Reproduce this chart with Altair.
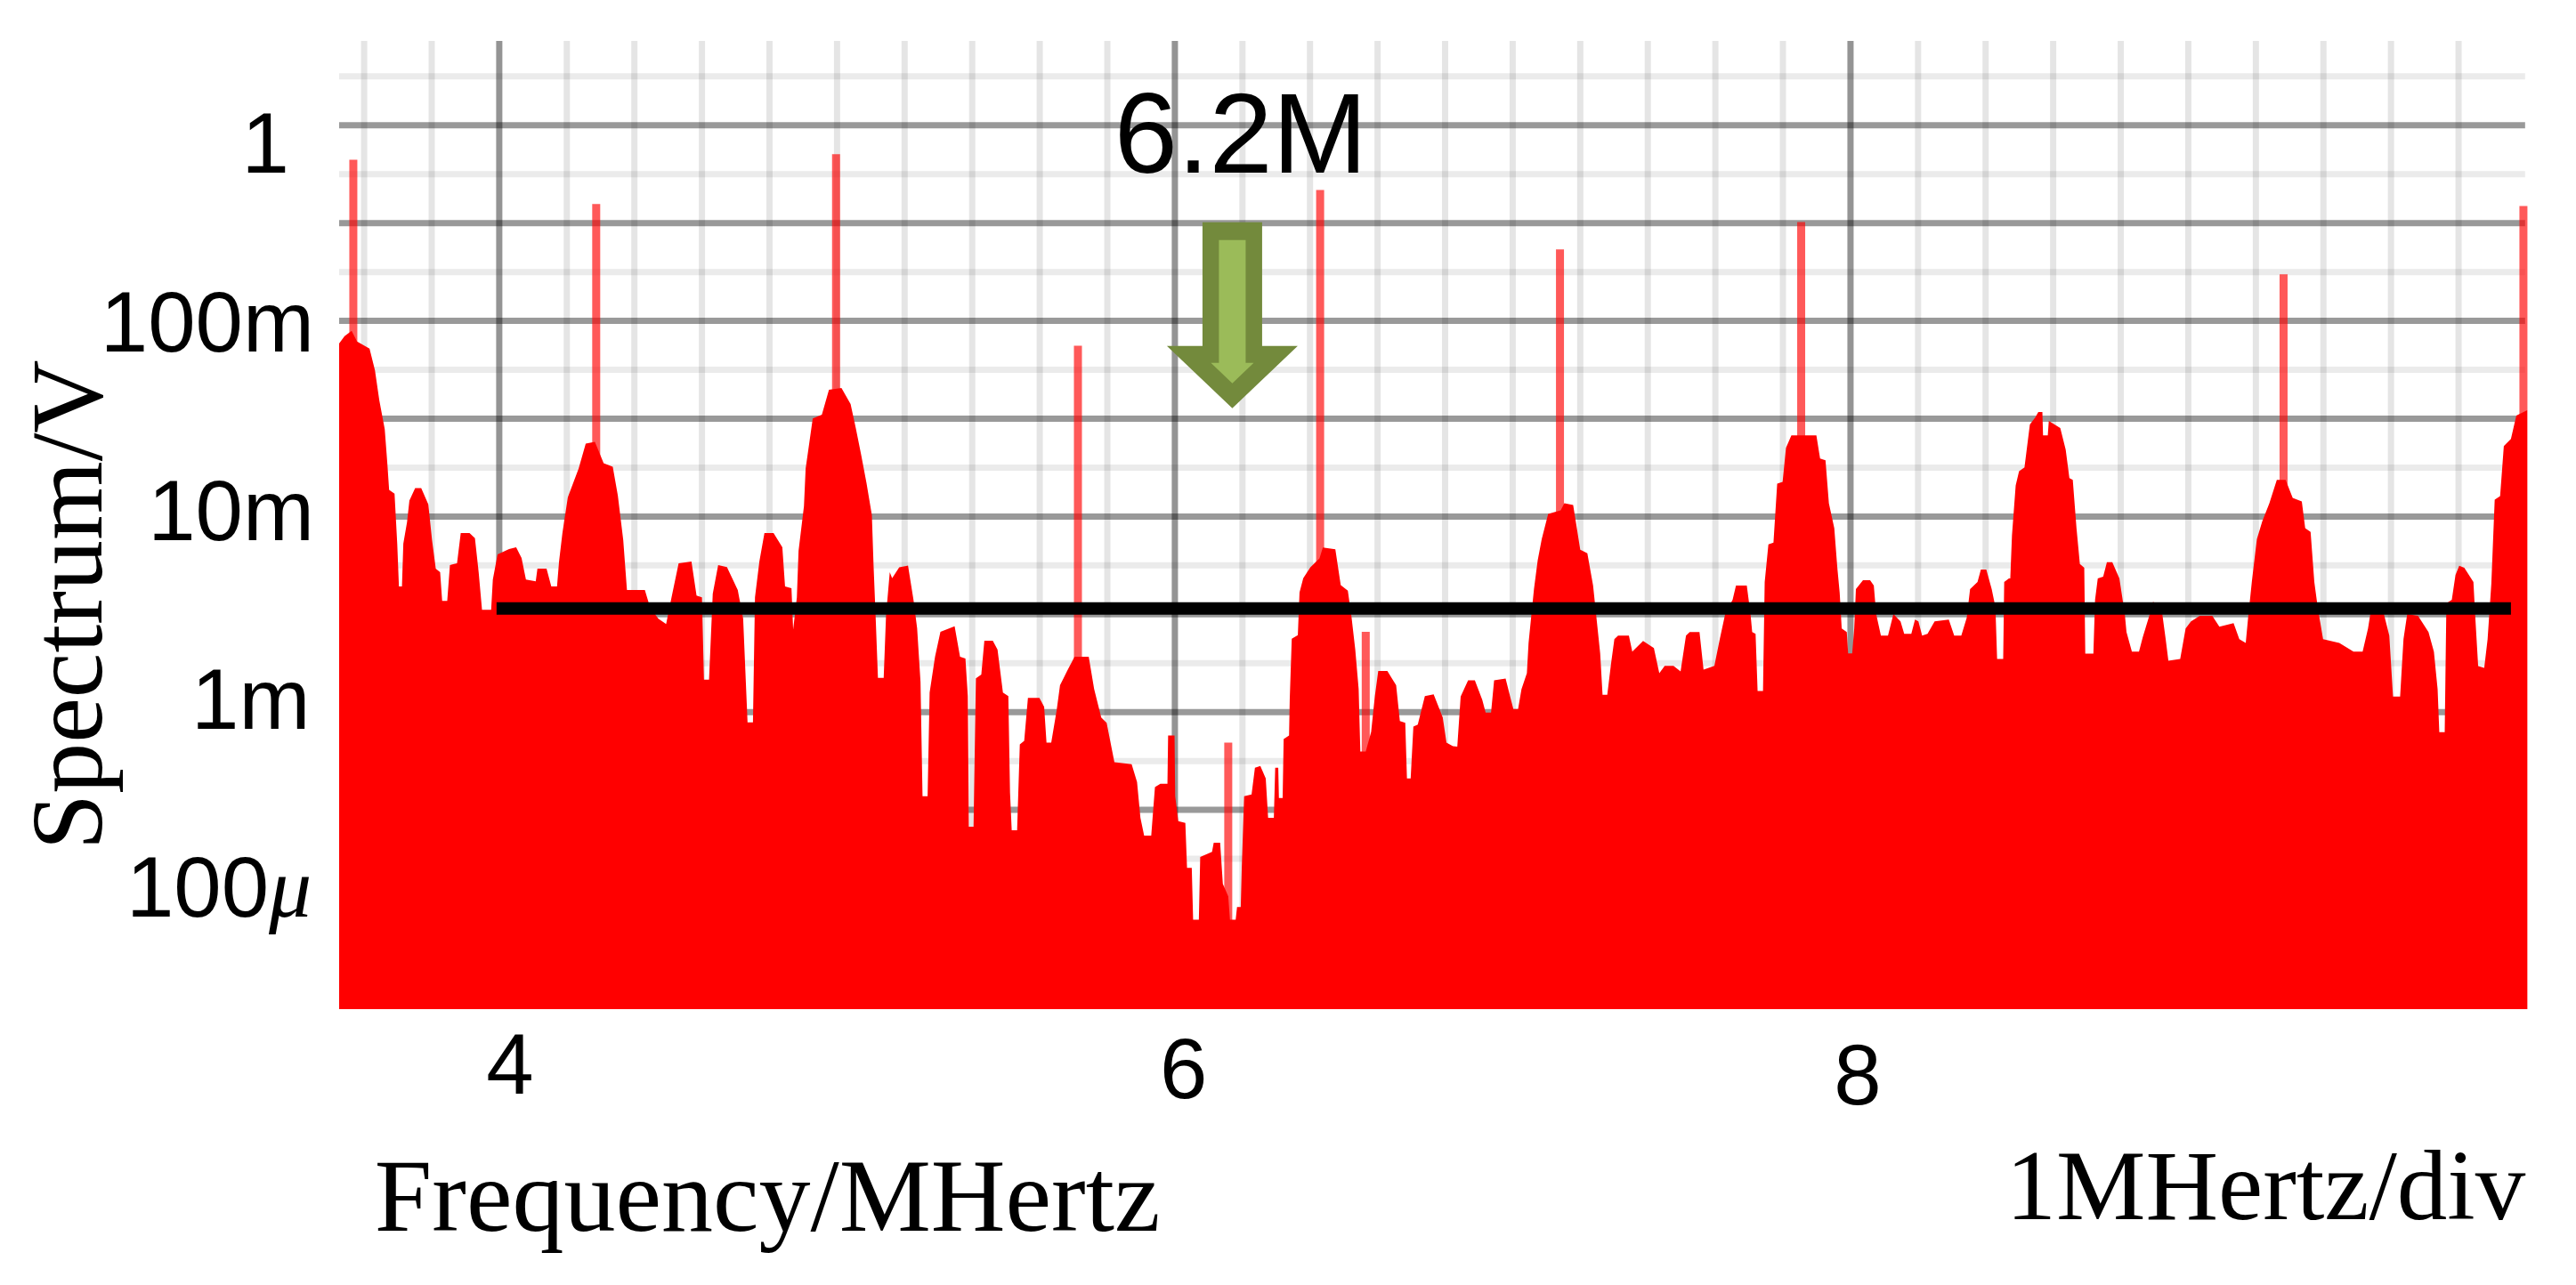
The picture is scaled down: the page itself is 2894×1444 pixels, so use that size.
import altair as alt
import pandas as pd

# Envelope of the spectrum
freq_mhz = [
3.526,3.542,3.563,3.579,3.616,3.632,3.645,3.661,3.669,3.674,3.690,3.698,3.703,3.712,3.716,3.727,3.734,3.751,3.769,3.790,
3.801,3.812,3.825,3.831,3.846,3.854,3.875,3.886,3.912,3.928,3.939,3.949,3.976,3.981,3.995,4.029,4.050,4.066,4.079,4.108,
4.113,4.140,4.154,4.171,4.177,4.187,4.203,4.235,4.256,4.283,4.309,4.336,4.351,4.367,4.378,4.431,4.447,4.471,4.494,4.510,
4.531,4.569,4.584,4.600,4.606,4.621,4.632,4.648,4.674,4.706,4.722,4.735,4.751,4.757,4.770,4.785,4.812,4.838,4.846,4.865,
4.870,4.881,4.886,4.902,4.907,4.928,4.955,4.976,5.013,5.040,5.055,5.071,5.087,5.103,5.108,5.114,5.121,5.138,5.145,5.156,
5.163,5.184,5.210,5.226,5.237,5.247,5.253,5.268,5.274,5.290,5.306,5.348,5.364,5.380,5.387,5.390,5.404,5.411,5.427,5.436,
5.461,5.475,5.491,5.507,5.512,5.517,5.533,5.541,5.554,5.565,5.599,5.613,5.620,5.634,5.650,5.660,5.681,5.703,5.745,5.761,
5.782,5.798,5.821,5.872,5.888,5.898,5.909,5.930,5.941,5.957,5.978,5.980,5.999,6.001,6.010,6.031,6.036,6.050,6.054,6.071,
6.075,6.110,6.115,6.134,6.142,6.158,6.163,6.180,6.184,6.195,6.198,6.205,6.227,6.237,6.253,6.269,6.276,6.293,6.297,6.306,
6.308,6.319,6.322,6.338,6.340,6.346,6.364,6.369,6.380,6.401,6.428,6.438,6.475,6.491,6.512,6.523,6.534,6.544,6.549,6.565,
6.581,6.592,6.602,6.629,6.655,6.666,6.682,6.687,6.698,6.706,6.719,6.740,6.766,6.793,6.804,6.823,6.836,6.846,6.868,6.888,
6.910,6.920,6.936,6.945,6.979,6.995,7.002,7.016,7.026,7.042,7.047,7.063,7.074,7.086,7.105,7.142,7.153,7.179,7.200,7.221,
7.238,7.248,7.259,7.266,7.280,7.291,7.301,7.312,7.344,7.354,7.386,7.418,7.434,7.450,7.476,7.497,7.513,7.524,7.553,7.565,
7.597,7.613,7.629,7.651,7.661,7.693,7.704,7.709,7.719,7.725,7.741,7.746,7.757,7.772,7.783,7.799,7.809,7.825,7.899,7.910,
7.926,7.936,7.952,7.961,7.968,7.974,7.989,7.993,8.005,8.011,8.016,8.037,8.058,8.069,8.076,8.090,8.111,8.127,8.148,8.159,
8.180,8.191,8.201,8.212,8.228,8.249,8.291,8.307,8.328,8.344,8.354,8.376,8.386,8.402,8.418,8.429,8.434,8.452,8.455,8.469,
8.473,8.478,8.489,8.499,8.515,8.531,8.547,8.556,8.568,8.570,8.584,8.587,8.621,8.637,8.648,8.658,8.669,8.679,8.692,8.695,
8.719,8.724,8.732,8.748,8.759,8.775,8.796,8.812,8.817,8.833,8.854,8.865,8.886,8.896,8.923,8.933,8.941,8.976,8.992,9.008,
9.034,9.071,9.092,9.134,9.151,9.170,9.177,9.188,9.203,9.219,9.240,9.262,9.288,9.309,9.336,9.346,9.362,9.373,9.383,9.399,
9.447,9.489,9.516,9.532,9.542,9.579,9.595,9.606,9.627,9.637,9.648,9.680,9.711,9.727,9.738,9.743,9.759,9.764,9.780,9.791,
9.802,9.817,9.844,9.849,9.858,9.876,9.886,9.897,9.907,9.923,9.934,9.955,9.971,10.003,
]
log10_volts = [
-1.115,-1.078,-1.051,-1.105,-1.142,-1.252,-1.407,-1.553,-1.736,-1.864,-1.883,-2.139,-2.358,-2.358,-2.139,-2.029,-1.919,-1.855,-1.855,-1.938,
-2.120,-2.267,-2.285,-2.431,-2.431,-2.248,-2.239,-2.084,-2.084,-2.111,-2.285,-2.477,-2.477,-2.322,-2.194,-2.166,-2.157,-2.212,-2.322,-2.331,
-2.267,-2.267,-2.358,-2.358,-2.230,-2.084,-1.901,-1.755,-1.627,-1.618,-1.727,-1.746,-1.892,-2.120,-2.376,-2.376,-2.468,-2.523,-2.550,-2.413,
-2.239,-2.230,-2.404,-2.413,-2.834,-2.834,-2.395,-2.248,-2.258,-2.376,-2.523,-3.053,-3.053,-2.413,-2.230,-2.084,-2.084,-2.157,-2.358,-2.367,
-2.578,-2.413,-2.175,-1.947,-1.755,-1.499,-1.480,-1.352,-1.343,-1.425,-1.544,-1.682,-1.828,-1.992,-2.248,-2.504,-2.825,-2.825,-2.504,-2.285,
-2.315,-2.260,-2.251,-2.424,-2.571,-2.845,-3.430,-3.430,-2.900,-2.717,-2.589,-2.561,-2.717,-2.726,-2.918,-3.586,-3.586,-2.827,-2.808,-2.635,
-2.635,-2.680,-2.900,-2.918,-3.412,-3.604,-3.604,-3.165,-3.147,-2.927,-2.927,-2.973,-3.156,-3.156,-2.991,-2.863,-2.790,-2.717,-2.717,-2.882,
-3.028,-3.055,-3.256,-3.266,-3.357,-3.540,-3.631,-3.631,-3.384,-3.366,-3.366,-3.119,-3.119,-3.430,-3.558,-3.567,-3.796,-3.796,-4.061,-4.061,
-3.741,-3.714,-3.668,-3.668,-3.878,-3.942,-4.061,-4.061,-3.997,-3.997,-3.796,-3.430,-3.421,-3.284,-3.275,-3.339,-3.540,-3.540,-3.284,-3.284,
-3.439,-3.439,-3.138,-3.119,-2.936,-2.625,-2.607,-2.388,-2.315,-2.260,-2.214,-2.159,-2.168,-2.351,-2.379,-2.516,-2.680,-2.882,-3.202,-3.202,
-3.101,-2.918,-2.790,-2.790,-2.863,-3.046,-3.055,-3.339,-3.339,-3.074,-3.064,-2.918,-2.909,-3.028,-3.156,-3.174,-3.176,-2.920,-2.838,-2.838,
-2.938,-3.002,-3.002,-2.838,-2.828,-2.938,-2.984,-2.984,-2.883,-2.801,-2.646,-2.371,-2.225,-2.115,-1.987,-1.969,-1.932,-1.941,-2.170,-2.188,
-2.353,-2.518,-2.700,-2.911,-2.911,-2.755,-2.627,-2.609,-2.609,-2.691,-2.636,-2.673,-2.801,-2.764,-2.764,-2.792,-2.609,-2.591,-2.591,-2.783,
-2.764,-2.627,-2.499,-2.426,-2.353,-2.353,-2.499,-2.591,-2.600,-2.892,-2.892,-2.335,-2.143,-2.134,-1.832,-1.823,-1.649,-1.585,-1.585,-1.704,
-1.713,-1.932,-2.060,-2.262,-2.390,-2.572,-2.591,-2.700,-2.700,-2.572,-2.371,-2.326,-2.326,-2.353,-2.499,-2.609,-2.609,-2.499,-2.536,-2.600,
-2.600,-2.527,-2.536,-2.609,-2.600,-2.536,-2.527,-2.609,-2.609,-2.518,-2.371,-2.335,-2.271,-2.271,-2.371,-2.463,-2.728,-2.728,-2.335,-2.316,
-2.316,-2.097,-1.841,-1.768,-1.749,-1.530,-1.493,-1.466,-1.466,-1.585,-1.585,-1.511,-1.548,-1.658,-1.804,-1.813,-2.060,-2.243,-2.262,-2.701,
-2.701,-2.426,-2.316,-2.307,-2.234,-2.234,-2.316,-2.499,-2.591,-2.691,-2.691,-2.618,-2.499,-2.435,-2.499,-2.627,-2.737,-2.728,-2.572,-2.536,
-2.508,-2.508,-2.563,-2.545,-2.627,-2.646,-2.518,-2.335,-2.115,-2.024,-1.932,-1.813,-1.813,-1.905,-1.923,-2.060,-2.079,-2.335,-2.463,-2.627,
-2.646,-2.691,-2.691,-2.572,-2.463,-2.499,-2.609,-2.920,-2.920,-2.627,-2.499,-2.508,-2.591,-2.691,-2.883,-3.103,-3.103,-2.444,-2.426,-2.298,
-2.252,-2.262,-2.335,-2.499,-2.765,-2.774,-2.627,-2.344,-1.914,-1.896,-1.640,-1.603,-1.484,-1.457,
]
n = min(len(freq_mhz), len(log10_volts))
freq_mhz = freq_mhz[:n]
log10_volts = log10_volts[:n]

spike_freq = [3.568,4.287,4.997,5.713,6.158,6.430,6.565,7.140,7.854,9.282,9.992]
spike_log10 = [-0.176,-0.402,-0.147,-1.127,-3.156,-0.331,-2.589,-0.634,-0.495,-0.762,-0.413]

grid_major_x = [4,6,8]
grid_minor_x = [3.6,3.8,4.2,4.4,4.6,4.8,5.0,5.2,5.4,5.6,5.8,6.2,6.4,6.6,6.8,7.0,7.2,7.4,7.6,7.8,8.2,8.4,8.6,8.8,9.0,9.2,9.4,9.6,9.8]
grid_major_log = [0,-0.5,-1,-1.5,-2,-2.5,-3,-3.5]
grid_minor_log = [0.25,-0.25,-0.75,-1.25,-1.75,-2.25,-2.75,-3.25,-3.75]

FLOOR = 3.03e-5
TOP = 2.7
X_MIN, X_MAX = 3.526, 10.008
GRID_END = 9.997
THRESHOLD_V = 3.39e-3
THRESHOLD_FROM, THRESHOLD_TO = 3.992, 9.955

x_scale = alt.Scale(domain=[X_MIN, X_MAX], nice=False, zero=False)
y_scale = alt.Scale(type="log", domain=[FLOOR, TOP], nice=False)
X = alt.X("f:Q", scale=x_scale, axis=None)
Y = alt.Y("v:Q", scale=y_scale, axis=None)

def hgrid(logs):
    return pd.DataFrame({"v": [10.0**l for l in logs], "f": X_MIN, "f2": GRID_END})

minor_h = alt.Chart(hgrid(grid_minor_log)).mark_rule(color="black", opacity=0.08, strokeWidth=7).encode(
    x=X, x2="f2:Q", y=Y)
major_h = alt.Chart(hgrid(grid_major_log)).mark_rule(color="black", opacity=0.4, strokeWidth=7).encode(
    x=X, x2="f2:Q", y=Y)
minor_v = alt.Chart(pd.DataFrame({"f": grid_minor_x})).mark_rule(color="black", opacity=0.1, strokeWidth=7).encode(x=X)
major_v = alt.Chart(pd.DataFrame({"f": grid_major_x})).mark_rule(color="black", opacity=0.42, strokeWidth=7).encode(
    x=alt.X("f:Q", scale=x_scale, axis=alt.Axis(
        values=grid_major_x, labels=False, title=None, domain=False, grid=False,
        tickSize=8, tickWidth=5, tickColor="#a9b6c2")))

area = alt.Chart(pd.DataFrame({
    "f": freq_mhz, "v": [10.0**l for l in log10_volts], "floor": FLOOR,
})).mark_area(color="#ff0000", opacity=1, interpolate="linear").encode(x=X, y=Y, y2="floor:Q")

spikes = alt.Chart(pd.DataFrame({
    "f": spike_freq, "v": [10.0**l for l in spike_log10], "floor": FLOOR,
})).mark_rule(color="#ff0000", opacity=0.65, strokeWidth=9).encode(x=X, y=Y, y2="floor:Q")

threshold = alt.Chart(pd.DataFrame({
    "f": [THRESHOLD_FROM], "f2": [THRESHOLD_TO], "v": [THRESHOLD_V],
})).mark_rule(color="black", strokeWidth=14).encode(x=X, x2="f2:Q", y=Y)

# Arrow marker at 6.2M
ARROW_OUTER = "M-.319,-.995L.319,-.995L.319,.329L.7,.329L0,.995L-.7,.329L-.319,.329Z"
ARROW_INNER = "M-.143,-.805L.143,-.805L.143,.51L.229,.51L0,.729L-.229,.51L-.143,.51Z"
arrow_df = pd.DataFrame({"f": [6.170], "v": [0.107]})
arrow_outer = alt.Chart(arrow_df).mark_point(shape=ARROW_OUTER, size=44100, filled=True, color="#738a3c", opacity=1).encode(x=X, y=Y)
arrow_inner = alt.Chart(arrow_df).mark_point(shape=ARROW_INNER, size=44100, filled=True, color="#9bbb59", opacity=1).encode(x=X, y=Y)

def text_layer(labels, fs, logs, font, size, align="left", angle=None, style=None):
    df = pd.DataFrame({"t": labels, "f": fs, "v": [10.0**l for l in logs]})
    kw = dict(font=font, fontSize=size, align=align, baseline="alphabetic", color="black")
    if angle is not None:
        kw["angle"] = angle
    if style is not None:
        kw["fontStyle"] = style
    return alt.Chart(df).mark_text(**kw).encode(x=X, y=Y, text="t:N")

SANS = "Liberation Sans"
SERIF = "Liberation Serif"
y_labels = text_layer(["1", "100m", "10m", "1m", "100"],
                      [3.378, 3.452, 3.452, 3.440, 3.318],
                      [-0.240, -1.155, -2.120, -3.085, -4.045], SANS, 96, align="right")
mu = text_layer(["\u03bc"], [3.318], [-4.045], SERIF, 96, style="italic")
x_labels = text_layer(["4", "6", "8"], [4.032, 6.026, 8.021], [-4.951, -4.974, -5.006], SANS, 96, align="center")
peak_label = text_layer(["6.2M"], [6.195], [-0.240], SANS, 128, align="center")
x_title = text_layer(["Frequency/MHertz"], [3.631], [-5.652], SERIF, 116)
div_label = text_layer(["1MHertz/div"], [8.460], [-5.593], SERIF, 113)
y_title = text_layer(["Spectrum/V"], [2.822], [-2.452], SERIF, 114, align="center", angle=270)

chart = alt.layer(
    minor_h, minor_v, major_h, major_v, area, spikes, threshold,
    arrow_outer, arrow_inner, y_labels, mu, x_labels, peak_label, x_title, div_label, y_title,
).properties(
    width=2460, height=1088,
    padding={"left": 373, "top": 38, "right": 40, "bottom": 290},
    autosize=alt.AutoSizeParams(type="none"),
    background="white",
).configure_view(stroke=None)

chart.save("out.html", embed_options={"renderer": "svg", "actions": False})
